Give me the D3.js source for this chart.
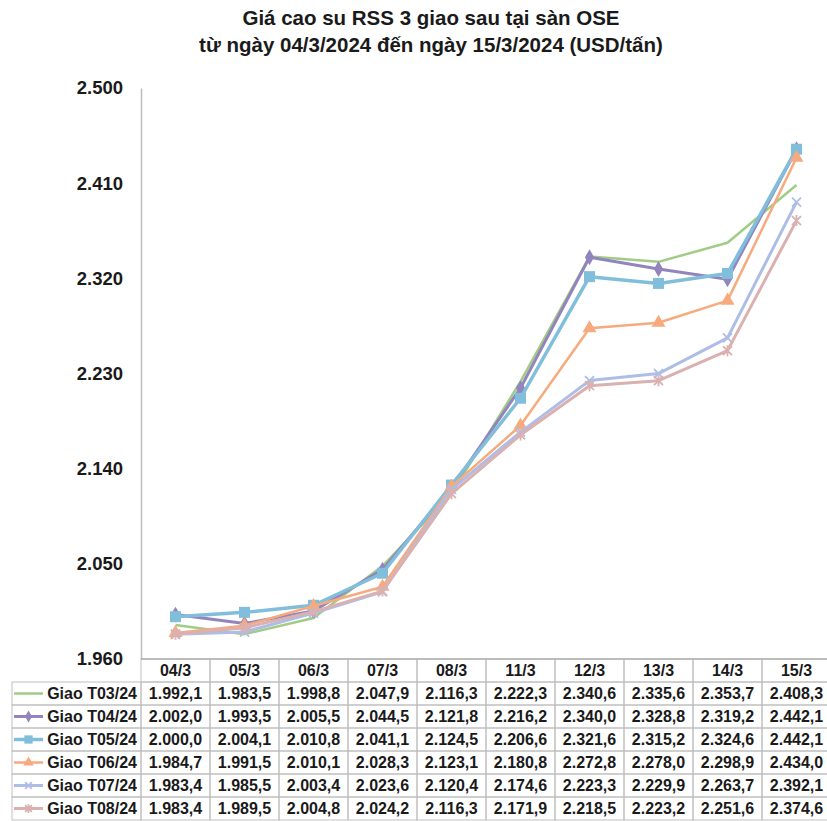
<!DOCTYPE html>
<html>
<head>
<meta charset="utf-8">
<script src="https://cdn.jsdelivr.net/npm/d3@7"></script>
<style>
  html, body { margin: 0; padding: 0; background: #fff; }
  svg { display: block; font-family: "Liberation Sans", Arial, sans-serif; }
</style>
</head>
<body>
<svg id="chart" width="827" height="821"></svg>
<script>
// ---- Data ----
const dates = ["04/3", "05/3", "06/3", "07/3", "08/3", "11/3", "12/3", "13/3", "14/3", "15/3"];
const seriesNames = ["Giao T03/24", "Giao T04/24", "Giao T05/24", "Giao T06/24", "Giao T07/24", "Giao T08/24"];
const t03 = [1992.1, 1983.5, 1998.8, 2047.9, 2116.3, 2222.3, 2340.6, 2335.6, 2353.7, 2408.3];
const t04 = [2002.0, 1993.5, 2005.5, 2044.5, 2121.8, 2216.2, 2340.0, 2328.8, 2319.2, 2442.1];
const t05 = [2000.0, 2004.1, 2010.8, 2041.1, 2124.5, 2206.6, 2321.6, 2315.2, 2324.6, 2442.1];
const t06 = [1984.7, 1991.5, 2010.1, 2028.3, 2123.1, 2180.8, 2272.8, 2278.0, 2298.9, 2434.0];
const t07 = [1983.4, 1985.5, 2003.4, 2023.6, 2120.4, 2174.6, 2223.3, 2229.9, 2263.7, 2392.1];
const t08 = [1983.4, 1989.5, 2004.8, 2024.2, 2116.3, 2171.9, 2218.5, 2223.2, 2251.6, 2374.6];
const yTicks = [1960, 2050, 2140, 2230, 2320, 2410, 2500];
const titleLines = ["Giá cao su RSS 3 giao sau tại sàn OSE", "từ ngày 04/3/2024 đến ngày 15/3/2024 (USD/tấn)"];

// ---- Styles ----
const styles = [
  { color: "#a2cb86", width: 2.5, marker: "none" },
  { color: "#9284bd", width: 3,   marker: "diamond" },
  { color: "#80bedb", width: 3.5, marker: "square" },
  { color: "#f6aa7e", width: 2.5, marker: "triangle" },
  { color: "#aebde6", width: 3,   marker: "x" },
  { color: "#dbb0b0", width: 3,   marker: "star" }
];
const allSeries = [t03, t04, t05, t06, t07, t08].map((v, i) => ({ name: seriesNames[i], values: v, ...styles[i] }));

const locale = d3.formatLocale({ decimal: ",", thousands: ".", grouping: [3], currency: ["", ""] });
const fmt1 = locale.format(",.1f");
const fmt0 = locale.format(",.0f");

const svg = d3.select("#chart");

// ---- Layout ----
const plotLeft = 141, plotRight = 831, plotTop = 88, plotBottom = 659;
const x = d3.scaleBand().domain(dates).range([plotLeft, plotRight]).padding(0);
const y = d3.scaleLinear().domain([1960, 2500]).range([plotBottom, plotTop]);
const bw = x.bandwidth();
const cx = d => x(d) + bw / 2;

// Title
svg.append("g").selectAll("text").data(titleLines).join("text")
  .attr("x", 431).attr("y", (d, i) => 25 + i * 27)
  .attr("text-anchor", "middle")
  .attr("font-size", 20.5).attr("font-weight", "bold").attr("fill", "#1a1a1a")
  .text(d => d);

// Y axis
const yAxis = d3.axisLeft(y).tickValues(yTicks).tickFormat(fmt0).tickSize(0).tickPadding(18);
const gy = svg.append("g").attr("transform", `translate(${plotLeft},0)`).call(yAxis);
gy.select(".domain").attr("stroke", "#bdbdbd").attr("stroke-width", 1.5);
gy.selectAll("text").attr("font-size", 18.5).attr("font-weight", "bold").attr("fill", "#1a1a1a")
  .attr("font-family", "Liberation Sans, Arial, sans-serif");

// Marker drawing
function drawMarker(g, type, color, size) {
  const s = size;
  if (type === "diamond") {
    g.append("path").attr("d", d3.symbol(d3.symbolDiamond, s * s * 0.9)()).attr("fill", color);
  } else if (type === "square") {
    g.append("rect").attr("x", -s / 2).attr("y", -s / 2).attr("width", s).attr("height", s).attr("fill", color);
  } else if (type === "triangle") {
    g.append("path").attr("d", d3.symbol(d3.symbolTriangle, s * s * 0.7)()).attr("fill", color);
  } else if (type === "x") {
    const h = s / 2;
    g.append("path").attr("d", `M${-h},${-h}L${h},${h}M${-h},${h}L${h},${-h}`).attr("stroke", color).attr("stroke-width", 1.8).attr("fill", "none");
  } else if (type === "star") {
    const h = s / 2;
    g.append("path").attr("d", `M${-h},${-h}L${h},${h}M${-h},${h}L${h},${-h}M0,${-h - 1}L0,${h + 1}`).attr("stroke", color).attr("stroke-width", 1.8).attr("fill", "none");
  }
}
const markerSize = { diamond: 9, square: 11, triangle: 11, x: 9, star: 9, none: 0 };

// Lines
const line = d3.line().x((d, i) => cx(dates[i])).y(d => y(d));
const gLines = svg.append("g");
allSeries.forEach(s => {
  gLines.append("path").datum(s.values)
    .attr("d", line).attr("fill", "none")
    .attr("stroke", s.color).attr("stroke-width", s.width)
    .attr("stroke-linejoin", "round");
  if (s.marker !== "none") {
    s.values.forEach((v, i) => {
      const g = gLines.append("g").attr("transform", `translate(${cx(dates[i])},${y(v)})`);
      drawMarker(g, s.marker, s.color, markerSize[s.marker]);
    });
  }
});

// ---- Data table ----
const tableTop = plotBottom, headerH = 23, rowH = 23, firstColLeft = 12;
const gridColor = "#bfbfbf";
const gt = svg.append("g");

// header cells
dates.forEach(d => {
  gt.append("rect").attr("x", x(d)).attr("y", tableTop).attr("width", bw).attr("height", headerH)
    .attr("fill", "none").attr("stroke", gridColor).attr("stroke-width", 1);
  gt.append("text").attr("x", cx(d)).attr("y", tableTop + headerH / 2 + 5.5)
    .attr("text-anchor", "middle").attr("font-size", 16).attr("font-weight", "bold").attr("fill", "#1a1a1a")
    .text(d);
});

// rows
allSeries.forEach((s, r) => {
  const ry = tableTop + headerH + r * rowH;
  gt.append("rect").attr("x", firstColLeft).attr("y", ry).attr("width", plotLeft - firstColLeft).attr("height", rowH)
    .attr("fill", "none").attr("stroke", gridColor).attr("stroke-width", 1);
  // legend key
  const ly = ry + rowH / 2;
  gt.append("line").attr("x1", 14).attr("x2", 43).attr("y1", ly).attr("y2", ly)
    .attr("stroke", s.color).attr("stroke-width", s.width);
  if (s.marker !== "none") {
    const g = gt.append("g").attr("transform", `translate(28.5,${ly})`);
    drawMarker(g, s.marker, s.color, markerSize[s.marker] * 0.75);
  }
  gt.append("text").attr("x", 137).attr("y", ly + 5.5).attr("text-anchor", "end")
    .attr("font-size", 16).attr("font-weight", "bold").attr("fill", "#1a1a1a").text(s.name);
  s.values.forEach((v, i) => {
    gt.append("rect").attr("x", x(dates[i])).attr("y", ry).attr("width", bw).attr("height", rowH)
      .attr("fill", "none").attr("stroke", gridColor).attr("stroke-width", 1);
    gt.append("text").attr("x", cx(dates[i])).attr("y", ly + 5.5).attr("text-anchor", "middle")
      .attr("font-size", 16).attr("font-weight", "bold").attr("fill", "#1a1a1a").text(fmt1(v));
  });
});
// thicker top line (x-axis)
gt.append("line").attr("x1", plotLeft).attr("x2", 827).attr("y1", tableTop).attr("y2", tableTop)
  .attr("stroke", "#b0b0b0").attr("stroke-width", 1.5);
</script>
</body>
</html>
